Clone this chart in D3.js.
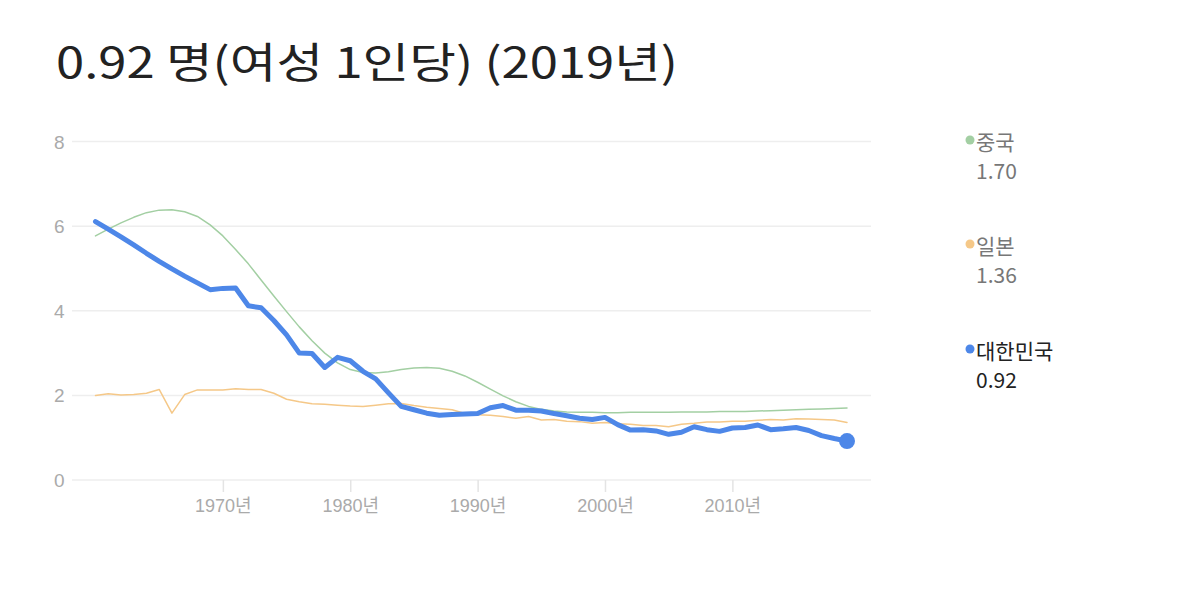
<!DOCTYPE html>
<html>
<head>
<meta charset="utf-8">
<script src="https://cdn.jsdelivr.net/npm/d3@7"></script>
<style>
  body { margin: 0; background: #fff; font-family: "Noto Sans CJK KR", "Noto Sans", sans-serif; }
</style>
</head>
<body>
<svg id="chart" width="1178" height="614"></svg>
<script>
// Total fertility rate, 1960-2019
const years = d3.range(1960, 2020);

const korea = [6.11, 5.93, 5.75, 5.56, 5.36, 5.17, 4.99, 4.82, 4.66, 4.50,
  4.53, 4.54, 4.12, 4.07, 3.77, 3.43, 3.00, 2.99, 2.66, 2.90,
  2.82, 2.57, 2.39, 2.06, 1.74, 1.66, 1.58, 1.53, 1.55, 1.56,
  1.57, 1.71, 1.76, 1.65, 1.65, 1.63, 1.57, 1.52, 1.46, 1.43,
  1.48, 1.31, 1.18, 1.19, 1.16, 1.08, 1.13, 1.26, 1.19, 1.15,
  1.23, 1.24, 1.30, 1.19, 1.21, 1.24, 1.17, 1.05, 0.98, 0.92];

const china = [5.77, 5.93, 6.08, 6.21, 6.32, 6.38, 6.39, 6.34, 6.23, 6.03,
  5.77, 5.45, 5.11, 4.73, 4.35, 3.98, 3.62, 3.29, 3.00, 2.77,
  2.61, 2.54, 2.53, 2.56, 2.61, 2.65, 2.66, 2.64, 2.57, 2.46,
  2.31, 2.15, 1.99, 1.85, 1.74, 1.67, 1.63, 1.61, 1.60, 1.60,
  1.59, 1.59, 1.60, 1.60, 1.60, 1.60, 1.61, 1.61, 1.61, 1.62,
  1.62, 1.62, 1.63, 1.64, 1.65, 1.66, 1.67, 1.68, 1.69, 1.70];

const japan = [2.00, 2.04, 2.01, 2.02, 2.05, 2.14, 1.58, 2.02, 2.13, 2.13,
  2.13, 2.16, 2.14, 2.14, 2.05, 1.91, 1.85, 1.80, 1.79, 1.77,
  1.75, 1.74, 1.77, 1.80, 1.81, 1.76, 1.72, 1.69, 1.66, 1.57,
  1.54, 1.53, 1.50, 1.46, 1.50, 1.42, 1.43, 1.39, 1.38, 1.34,
  1.36, 1.33, 1.32, 1.29, 1.29, 1.26, 1.32, 1.34, 1.37, 1.37,
  1.39, 1.39, 1.41, 1.43, 1.42, 1.45, 1.44, 1.43, 1.42, 1.36];

const yTicks = [0, 2, 4, 6, 8];
const xTicks = [1970, 1980, 1990, 2000, 2010];

const series = [
  { name: "중국", values: china, color: "#a3cfa3", width: 1.5, text: "#777" },
  { name: "일본", values: japan, color: "#f5c888", width: 1.5, text: "#777" },
  { name: "대한민국", values: korea, color: "#4d87e8", width: 5, text: "#222" }
];

const tickFont = "'Liberation Sans', Arial, 'Noto Sans CJK KR', sans-serif";

const svg = d3.select("#chart");

const x = d3.scaleLinear().domain([1960, 2019]).range([95.5, 847]);
const y = d3.scaleLinear().domain([0, 8]).range([480, 141.6]);

// Title
svg.append("text")
  .attr("x", 56)
  .attr("y", 78)
  .attr("textLength", 622)
  .attr("lengthAdjust", "spacingAndGlyphs")
  .style("font-size", "42px")
  .style("fill", "#222")
  .text("0.92 명(여성 1인당) (2019년)");

// Gridlines and y labels
svg.append("g")
  .selectAll("line")
  .data(yTicks)
  .join("line")
  .attr("x1", 72)
  .attr("x2", 871)
  .attr("y1", d => y(d))
  .attr("y2", d => y(d))
  .attr("stroke", "#eeeeee")
  .attr("stroke-width", 1.5);

svg.append("g")
  .selectAll("text")
  .data(yTicks)
  .join("text")
  .attr("x", 64.5)
  .attr("y", d => y(d) + 7)
  .attr("text-anchor", "end")
  .style("font-family", tickFont)
  .style("font-size", "19px")
  .style("fill", "#aaa")
  .text(d => d);

// X axis ticks
const xAxis = svg.append("g")
  .attr("transform", "translate(0,480)")
  .call(d3.axisBottom(x).tickValues(xTicks).tickSize(12).tickFormat(d => d + "년"));
xAxis.select(".domain").remove();
xAxis.selectAll(".tick line").attr("stroke", "#e4e4e4").attr("stroke-width", 1.5);
xAxis.selectAll(".tick text")
  .attr("y", 19)
  .style("font-size", "18px")
  .style("font-family", tickFont)
  .style("fill", "#aaa");

// Lines
const line = d3.line()
  .x((d, i) => x(years[i]))
  .y(d => y(d));

svg.append("g")
  .selectAll("path")
  .data(series)
  .join("path")
  .attr("d", d => line(d.values))
  .attr("fill", "none")
  .attr("stroke", d => d.color)
  .attr("stroke-width", d => d.width)
  .attr("stroke-linejoin", "round")
  .attr("stroke-linecap", "round");

// End marker for Korea
svg.append("circle")
  .attr("cx", x(2019))
  .attr("cy", y(korea[korea.length - 1]))
  .attr("r", 8)
  .attr("fill", "#4d87e8");

// Legend
const legendY = [141, 245, 350];
const legend = svg.append("g")
  .selectAll("g")
  .data(series)
  .join("g")
  .attr("transform", (d, i) => "translate(970," + legendY[i] + ")");

legend.append("circle")
  .attr("r", 4.5)
  .attr("cx", 0)
  .attr("cy", -1)
  .attr("fill", d => d.color);

legend.append("text")
  .attr("x", 6)
  .attr("y", 9)
  .style("font-size", "21px")
  .style("fill", d => d.text)
  .text(d => d.name);

legend.append("text")
  .attr("x", 6)
  .attr("y", 38)
  .style("font-size", "21px")
  .style("fill", d => d.text)
  .text(d => d.values[d.values.length - 1].toFixed(2));
</script>
</body>
</html>
